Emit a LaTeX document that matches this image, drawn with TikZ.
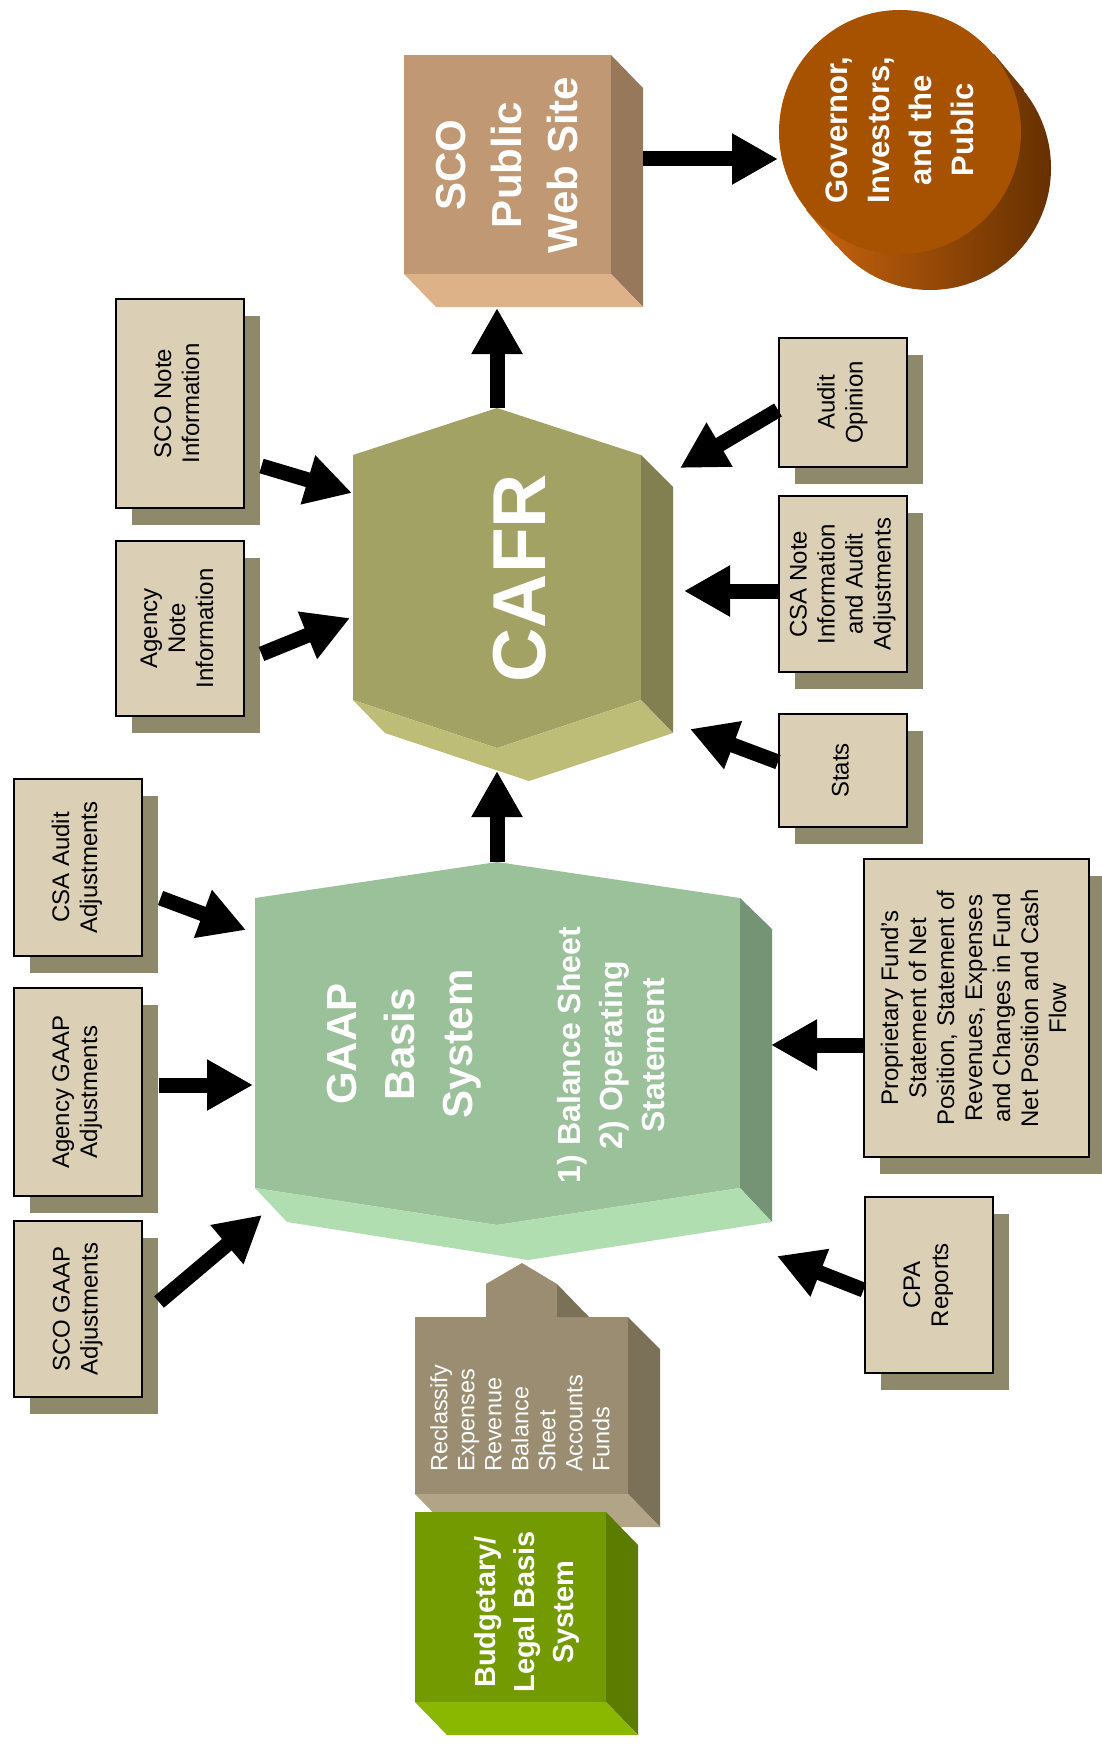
\documentclass[tikz,border=0pt]{standalone}
\usepackage{fontspec}
\setmainfont{Liberation Sans}
\usepackage{graphicx}
\usetikzlibrary{arrows.meta,shadows,calc}

\definecolor{notefill}{HTML}{DBD0B5}
\definecolor{noteshade}{HTML}{8F896C}
\definecolor{webfront}{HTML}{C09874}
\definecolor{webside}{HTML}{98785A}
\definecolor{webbottom}{HTML}{DEB288}
\definecolor{govtop}{HTML}{A65200}
\definecolor{govlight}{HTML}{C8640E}
\definecolor{govdark}{HTML}{663000}
\definecolor{cafrfront}{HTML}{A3A265}
\definecolor{cafrside}{HTML}{828050}
\definecolor{cafrbottom}{HTML}{BDBD78}
\definecolor{gaapfront}{HTML}{9BC19A}
\definecolor{gaapside}{HTML}{749475}
\definecolor{gaapbottom}{HTML}{B0DEB1}
\definecolor{reclfront}{HTML}{9B8D72}
\definecolor{reclside}{HTML}{7B7159}
\definecolor{reclbottom}{HTML}{B2A487}
\definecolor{budgfront}{HTML}{739A00}
\definecolor{budgside}{HTML}{5C7C00}
\definecolor{budgbottom}{HTML}{8AB800}

\newcommand{\uptext}[1]{\rotatebox{90}{\begin{tabular}{@{}c@{}}#1\end{tabular}}}

\begin{document}
\begin{tikzpicture}[x=1pt,y=-1pt,
    notebox/.style={draw=black, line width=2pt, fill=notefill, inner sep=0pt,
      minimum width=128pt, font=\fontsize{24}{28}\selectfont,
      drop shadow={shadow xshift=16pt, shadow yshift=-17pt, fill=noteshade, opacity=1}},
    boldlabel/.style={rotate=90, text=white, align=center, inner sep=0pt},
    bigarrow/.style={line width=15pt, -{Triangle[length=46pt,width=48pt]}}]
\useasboundingbox (0,0) rectangle (1102,1744);

% SCO web site block
\fill[webfront] (404,55) rectangle (611,274);
\fill[webside] (611,55) -- (643,88) -- (643,307) -- (611,274) -- cycle;
\fill[webbottom] (404,274) -- (611,274) -- (643,307) -- (436,307) -- cycle;
\node[boldlabel, font=\bfseries\fontsize{42}{56}\selectfont] (web) at (507,165) {SCO\\Public\\Web Site};
\coordinate (web-foot) at (497,308);
\coordinate (web-side) at (643,159);

% governor disc
\shade[left color=govlight, right color=govdark] (930,168) ellipse [x radius=121, y radius=122]
      (806,210) -- (994,54) -- (1024,90) -- (836,246) -- cycle;
\fill[govtop] (900,132) ellipse [x radius=121, y radius=122];
\node[boldlabel, font=\bfseries\fontsize{31}{42}\selectfont] (gov) at (900,130) {Governor,\\Investors,\\and the\\Public};
\coordinate (gov-edge) at (778,159);

% CAFR block
\fill[cafrfront] (497,408) -- (641,455) -- (641,700) -- (497,748) -- (353,700) -- (353,455) -- cycle;
\fill[cafrside] (641,455) -- (673,487) -- (673,733) -- (641,700) -- cycle;
\fill[cafrbottom] (353,700) -- (497,748) -- (641,700) -- (673,733) -- (529,781) -- (385,733) -- cycle;
\node[boldlabel, font=\bfseries\fontsize{75}{75}\selectfont] (cafr) at (520,578) {CAFR};
\coordinate (cafr-top) at (497,408);
\coordinate (cafr-foot) at (497,771);
\coordinate (cafr-in-a) at (352,493);
\coordinate (cafr-in-b) at (350,618);
\coordinate (cafr-in-c) at (680,468);
\coordinate (cafr-in-d) at (684,591);
\coordinate (cafr-in-e) at (690,729);

% GAAP block
\fill[gaapfront] (497,862) -- (740,898) -- (740,1188) -- (497,1225) -- (255,1188) -- (255,898) -- cycle;
\fill[gaapside] (740,898) -- (772,929) -- (772,1222) -- (740,1188) -- cycle;
\fill[gaapbottom] (255,1188) -- (497,1225) -- (740,1188) -- (772,1222) -- (528,1260) -- (287,1222) -- cycle;
\node[boldlabel, font=\bfseries\fontsize{42}{58}\selectfont] (gaap) at (404,1044) {GAAP\\Basis\\System};
\node[boldlabel, font=\bfseries\fontsize{32}{42}\selectfont] (gaapout) at (611,1055) {1) Balance Sheet\\2) Operating\\Statement};
\coordinate (gaap-top) at (497,862);
\coordinate (gaap-in-a) at (246,930);
\coordinate (gaap-in-b) at (253,1085);
\coordinate (gaap-in-c) at (262,1215);
\coordinate (gaap-in-d) at (771,1045);
\coordinate (gaap-in-e) at (777,1256);

% reclassify arrow block
\fill[reclfront] (415,1317) -- (486,1317) -- (486,1284) -- (522,1263) -- (557,1284) -- (557,1317)
      -- (628,1317) -- (628,1494) -- (415,1494) -- cycle;
\fill[reclside] (557,1284) -- (589,1317) -- (557,1317) -- cycle;
\fill[reclside] (628,1317) -- (660,1349) -- (660,1527) -- (628,1494) -- cycle;
\fill[reclbottom] (415,1494) -- (628,1494) -- (660,1527) -- (447,1527) -- cycle;
\node[rotate=90, text=white, align=left, inner sep=0pt, anchor=west,
      font=\fontsize{23.5}{27}\selectfont] (recl) at (520,1472)
      {Reclassify\\Expenses\\Revenue\\Balance\\Sheet\\Accounts\\Funds};

% budgetary block
\fill[budgfront] (415,1512) rectangle (606,1702);
\fill[budgside] (606,1512) -- (638,1545) -- (638,1735) -- (606,1702) -- cycle;
\fill[budgbottom] (415,1702) -- (606,1702) -- (638,1735) -- (447,1735) -- cycle;
\node[boldlabel, font=\bfseries\fontsize{29}{39}\selectfont] (budget) at (527,1612) {Budgetary/\\Legal Basis\\System};

% input boxes
\node[notebox, minimum height=209pt] (sconote) at (179.5,403.5) {\uptext{SCO Note\\Information}};
\node[notebox, minimum height=175pt] (agencynote) at (179.5,628.5) {\uptext{Agency\\Note\\Information}};
\node[notebox, minimum height=129pt] (auditop) at (843,402.5) {\uptext{Audit\\Opinion}};
\node[notebox, minimum height=176pt] (csanote) at (843,584) {\uptext{CSA Note\\Information\\and Audit\\Adjustments}};
\node[notebox, minimum height=113pt] (stats) at (843,770.5) {\uptext{Stats}};
\node[notebox, minimum height=177pt] (csaaudit) at (77.5,867.5) {\uptext{CSA Audit\\Adjustments}};
\node[notebox, minimum height=208pt] (agencygaap) at (77.5,1092) {\uptext{Agency GAAP\\Adjustments}};
\node[notebox, minimum height=176pt] (scogaap) at (78,1309) {\uptext{SCO GAAP\\Adjustments}};
\node[notebox, minimum width=225pt, minimum height=298pt] (propfund) at (976.5,1008)
      {\uptext{Proprietary Fund’s\\Statement of Net\\Position, Statement of\\Revenues, Expenses\\and Changes in Fund\\Net Position and Cash\\Flow}};
\node[notebox, minimum height=176pt] (cpa) at (928.5,1285) {\uptext{CPA\\Reports}};

% arrows
\draw[bigarrow] (gaap-top) -- (cafr-foot);
\draw[bigarrow] (cafr-top) -- (web-foot);
\draw[bigarrow] (web-side) -- (gov-edge);
\draw[bigarrow] ($(sconote.east)+(17,62.5)$) -- (cafr-in-a);
\draw[bigarrow] ($(agencynote.east)+(17,25.5)$) -- (cafr-in-b);
\draw[bigarrow] ($(auditop.west)+(0,7.5)$) -- (cafr-in-c);
\draw[bigarrow] ($(csanote.west)+(0,7)$) -- (cafr-in-d);
\draw[bigarrow] ($(stats.west)+(0,-8.5)$) -- (cafr-in-e);
\draw[bigarrow] ($(csaaudit.east)+(18,30.5)$) -- (gaap-in-a);
\draw[bigarrow] ($(agencygaap.east)+(16,-7)$) -- (gaap-in-b);
\draw[bigarrow] ($(scogaap.east)+(16,-7)$) -- (gaap-in-c);
\draw[bigarrow] ($(propfund.west)+(0,37)$) -- (gaap-in-d);
\draw[bigarrow] ($(cpa.west)+(0,5)$) -- (gaap-in-e);
\end{tikzpicture}
\end{document}
